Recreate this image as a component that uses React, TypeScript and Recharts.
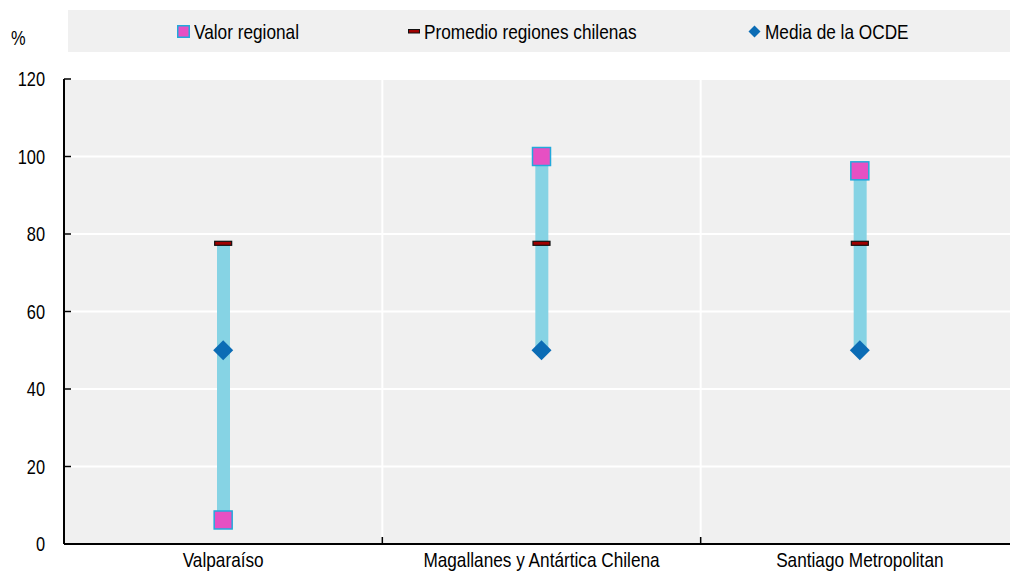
import React from 'react';
import { ComposedChart, Bar, Line, XAxis, YAxis, CartesianGrid } from 'recharts';

const categories = ['Valparaíso', 'Magallanes y Antártica Chilena', 'Santiago Metropolitan'];
const valorRegional = [6.2, 100, 96.3];
const promedioChile = [77.6, 77.6, 77.6];
const mediaOCDE = [50, 50, 50];
const yTicks = [0, 20, 40, 60, 80, 100, 120];
const seriesNames = ['Valor regional', 'Promedio regiones chilenas', 'Media de la OCDE'];

const data = categories.map((c, i) => {
  const vals = [valorRegional[i], promedioChile[i], mediaOCDE[i]];
  return {
    name: c,
    regional: valorRegional[i],
    promedio: promedioChile[i],
    ocde: mediaOCDE[i],
    range: [Math.min(...vals), Math.max(...vals)],
  };
});

const FONT = '"Liberation Sans", Arial, sans-serif';
const SX = 0.82;
const CHART_W = 1030;
const CHART_H = 572;
const X_H = 28;
const MARGIN = { top: 79, right: 11, bottom: 0, left: 0 };
const Y_W = 64;
const PLOT_W = CHART_W - MARGIN.left - MARGIN.right - Y_W;
const PLOT_H = CHART_H - MARGIN.top - MARGIN.bottom - X_H;
const BAND = PLOT_W / categories.length;

const C_BAR = '#86D3E4';
const C_SQ = '#E650C3';
const C_SQ_STROKE = '#22A9DC';
const C_DASH = '#A00000';
const C_DIAMOND = '#0B6CB5';

const YTick = (props: any) => {
  const { x, y, payload } = props;
  return (
    <g>
      <line x1={x} x2={x + 7} y1={y} y2={y} stroke="#000" strokeWidth={1.5} />
      <text
        transform={`translate(${x - 19},${y}) scale(${SX},1)`}
        textAnchor="end"
        dominantBaseline="central"
        fontFamily={FONT}
        fontSize={20}
        fill="#000"
      >
        {payload.value}
      </text>
    </g>
  );
};

const XTick = (props: any) => {
  const { x, y, payload, index } = props;
  const bx = x + BAND / 2;
  return (
    <g>
      {index < categories.length - 1 && (
        <>
          <line x1={bx} x2={bx} y1={y - PLOT_H} y2={y - 7} stroke="#fff" strokeWidth={2} />
          <line x1={bx} x2={bx} y1={y - 7} y2={y} stroke="#000" strokeWidth={1.5} />
        </>
      )}
      <text
        transform={`translate(${x},${y + 23}) scale(${SX},1)`}
        textAnchor="middle"
        fontFamily={FONT}
        fontSize={21}
        fill="#000"
      >
        {payload.value}
      </text>
    </g>
  );
};

const SquareDot = (props: any) => {
  const { cx, cy } = props;
  if (cx == null || cy == null) return null;
  return <rect x={cx - 9} y={cy - 9} width={18} height={18} fill={C_SQ} stroke={C_SQ_STROKE} strokeWidth={1.5} />;
};

const DashDot = (props: any) => {
  const { cx, cy } = props;
  if (cx == null || cy == null) return null;
  return <rect x={cx - 8.5} y={cy - 2} width={17} height={4} fill={C_DASH} stroke="#111" strokeWidth={1.2} />;
};

const DiamondDot = (props: any) => {
  const { cx, cy } = props;
  if (cx == null || cy == null) return null;
  return <path d={`M${cx},${cy - 10}L${cx + 10},${cy}L${cx},${cy + 10}L${cx - 10},${cy}Z`} fill={C_DIAMOND} />;
};

const LegendBox = () => {
  const items = [
    { left: 109, name: seriesNames[0], icon: <svg width={13} height={13}><rect x={0.75} y={0.75} width={11.5} height={11.5} fill={C_SQ} stroke={C_SQ_STROKE} strokeWidth={1.5} /></svg> },
    { left: 340, name: seriesNames[1], icon: <svg width={12} height={13}><rect x={0.5} y={4.5} width={11} height={3.5} fill={C_DASH} stroke="#111" strokeWidth={1} /></svg> },
    { left: 680, name: seriesNames[2], icon: <svg width={13} height={13}><path d="M6.5,0.5L12.5,6.5L6.5,12.5L0.5,6.5Z" fill={C_DIAMOND} /></svg> },
  ];
  return (
    <div style={{ position: 'absolute', left: 68, top: 10, width: 951, height: 42, background: '#F0F0F0' }}>
      {items.map((it) => (
        <div key={it.name} style={{ position: 'absolute', left: it.left, top: 0, height: 42, display: 'flex', alignItems: 'center', gap: 4 }}>
          {it.icon}
          <span
            style={{
              fontFamily: FONT,
              fontSize: 21,
              color: '#000',
              lineHeight: '21px',
              display: 'inline-block',
              transform: `scaleX(${SX})`,
              transformOrigin: 'left center',
              whiteSpace: 'nowrap',
            }}
          >
            {it.name}
          </span>
        </div>
      ))}
    </div>
  );
};

export default function App() {
  return (
    <div style={{ position: 'absolute', left: 0, top: 0, width: 1010, height: 572, overflow: 'hidden', background: '#fff' }}>
      <ComposedChart width={CHART_W} height={CHART_H} data={data} margin={MARGIN} barCategoryGap={0}>
        <CartesianGrid fill="#F0F0F0" stroke="#fff" strokeWidth={2} vertical={false} />
        <XAxis
          dataKey="name"
          type="category"
          tickLine={false}
          tickSize={0}
          tickMargin={0}
          tick={<XTick />}
          axisLine={{ stroke: '#000', strokeWidth: 2 }}
          height={X_H}
          interval={0}
        />
        <YAxis
          domain={[0, 120]}
          ticks={yTicks}
          width={Y_W}
          tickLine={false}
          tickSize={0}
          tickMargin={0}
          tick={<YTick />}
          axisLine={{ stroke: '#000', strokeWidth: 2 }}
          interval={0}
        />
        <Bar dataKey="range" fill={C_BAR} barSize={13} isAnimationActive={false} />
        <Line dataKey="promedio" stroke="none" dot={<DashDot />} activeDot={false} isAnimationActive={false} />
        <Line dataKey="ocde" stroke="none" dot={<DiamondDot />} activeDot={false} isAnimationActive={false} />
        <Line dataKey="regional" stroke="none" dot={<SquareDot />} activeDot={false} isAnimationActive={false} />
      </ComposedChart>
      <LegendBox />
      <div
        style={{
          position: 'absolute',
          left: 11,
          top: 27,
          fontFamily: FONT,
          fontSize: 20,
          color: '#000',
          transform: `scaleX(${SX})`,
          transformOrigin: 'left center',
        }}
      >
        %
      </div>
    </div>
  );
}
